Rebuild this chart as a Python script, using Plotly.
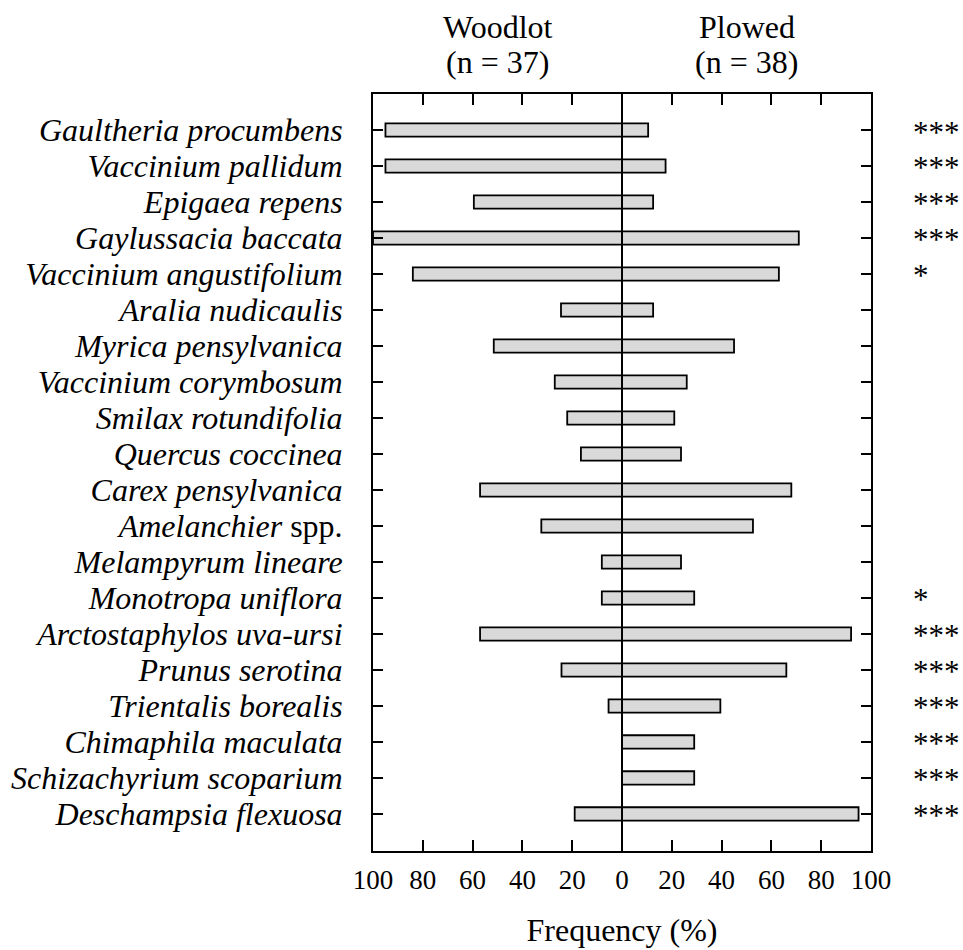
import plotly.graph_objects as go

species = [
    "<i>Gaultheria procumbens</i>",
    "<i>Vaccinium pallidum</i>",
    "<i>Epigaea repens</i>",
    "<i>Gaylussacia baccata</i>",
    "<i>Vaccinium angustifolium</i>",
    "<i>Aralia nudicaulis</i>",
    "<i>Myrica pensylvanica</i>",
    "<i>Vaccinium corymbosum</i>",
    "<i>Smilax rotundifolia</i>",
    "<i>Quercus coccinea</i>",
    "<i>Carex pensylvanica</i>",
    "<i>Amelanchier</i> spp.",
    "<i>Melampyrum lineare</i>",
    "<i>Monotropa uniflora</i>",
    "<i>Arctostaphylos uva-ursi</i>",
    "<i>Prunus serotina</i>",
    "<i>Trientalis borealis</i>",
    "<i>Chimaphila maculata</i>",
    "<i>Schizachyrium scoparium</i>",
    "<i>Deschampsia flexuosa</i>",
]

woodlot = [95, 95, 59.5, 100, 84, 24.5, 51.5, 27, 22, 16.5,
           57, 32.4, 8.1, 8.1, 57, 24.3, 5.4, 0, 0, 19]
plowed = [10.5, 17.5, 12.5, 71, 63, 12.5, 45, 26, 21, 23.7,
          68, 52.6, 23.7, 29, 92, 66, 39.5, 29, 29, 95]
signif = ["***", "***", "***", "***", "*", "", "", "", "", "",
          "", "", "", "*", "***", "***", "***", "***", "***", "***"]

tick_vals = [-100, -80, -60, -40, -20, 0, 20, 40, 60, 80, 100]
tick_text = ["100", "80", "60", "40", "20", "0", "20", "40", "60", "80", "100"]

groups = ["Woodlot", "Plowed"]
group_n = ["(n = 37)", "(n = 38)"]
group_x = [-50, 50]

FONT = "Liberation Serif, Times New Roman, serif"
ypos = list(range(len(species)))

fig = go.Figure()
bar_style = dict(
    orientation="h",
    width=0.37,
    marker=dict(color="#d9d9d9", line=dict(color="black", width=1.8)),
    showlegend=False,
    hoverinfo="skip",
)
fig.add_trace(go.Bar(y=ypos, x=[-v for v in woodlot], **bar_style))
fig.add_trace(go.Bar(y=ypos, x=plowed, **bar_style))

# zero line on top of bars
fig.add_shape(type="line", xref="x", yref="paper", x0=0, x1=0, y0=0, y1=1,
              line=dict(color="black", width=2), layer="above")

annotations = []
for i, s in enumerate(signif):
    if s:
        annotations.append(dict(
            x=1, xref="paper", y=i, yref="y", text=s, showarrow=False,
            xanchor="left", yanchor="middle", xshift=40, yshift=-2,
            font=dict(family=FONT, size=31, color="black")))
for g, n, gx in zip(groups, group_n, group_x):
    annotations.append(dict(x=gx, xref="x", y=1, yref="paper", text=g,
                            showarrow=False, xanchor="center", yanchor="middle",
                            yshift=67, font=dict(family=FONT, size=32, color="black")))
    annotations.append(dict(x=gx, xref="x", y=1, yref="paper", text=n,
                            showarrow=False, xanchor="center", yanchor="middle",
                            yshift=32, font=dict(family=FONT, size=32, color="black")))

fig.update_layout(
    width=963, height=950,
    margin=dict(l=373, r=92, t=94, b=99),
    paper_bgcolor="white", plot_bgcolor="white",
    barmode="relative",
    font=dict(family=FONT, color="black"),
    annotations=annotations,
)
fig.update_xaxes(
    range=[-100, 100], tickvals=tick_vals, ticktext=tick_text,
    ticks="inside", ticklen=11, tickwidth=1.5, tickcolor="black",
    showline=True, linecolor="black", linewidth=2, mirror="ticks",
    showgrid=False, zeroline=False, ticklabelstandoff=4, automargin=False,
    tickfont=dict(family=FONT, size=27, color="black"),
    title=dict(text="Frequency (%)", font=dict(family=FONT, size=32, color="black"), standoff=24),
)
fig.update_yaxes(
    range=[len(species) + 0.03, -1],
    tickvals=ypos, ticktext=species, automargin=False,
    ticks="inside", ticklen=10, tickwidth=1.5, tickcolor="black",
    showline=True, linecolor="black", linewidth=2, mirror="ticks",
    showgrid=False, zeroline=False, ticklabelstandoff=22,
    tickfont=dict(family=FONT, size=32, color="black"),
)

fig.write_html(
    "out.html",
    config={"displayModeBar": False},
    post_script="document.body.style.margin='0px';document.body.style.overflow='hidden';",
)
